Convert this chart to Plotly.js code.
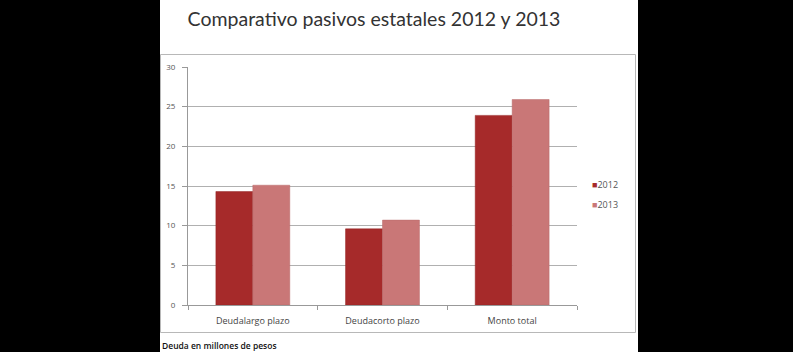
<!DOCTYPE html>
<html>
<head>
<meta charset="utf-8">
<script src="https://cdn.plot.ly/plotly-3.0.1.min.js"></script>
<style>
html,body{margin:0;padding:0;background:#000;}
#chart{width:793px;height:352px;}
</style>
</head>
<body>
<div id="chart"></div>
<script>
const categories = ["Deudalargo plazo", "Deudacorto plazo", "Monto total"];
const series2012 = [14.3, 9.6, 23.9];
const series2013 = [15.1, 10.7, 25.9];
const seriesNames = ["2012", "2013"];
const seriesColors = ["#a62a2a", "#c97777"];
const yTicks = [0, 5, 10, 15, 20, 25, 30];

const W = 793, H = 352;
const L = 188, R = 577, T = 67, B = 305;
const px = v => (v - L) / (R - L);
const py = v => (B - v) / (B - T);

const traces = [
  {type: "bar", name: seriesNames[0], x: categories, y: series2012,
   marker: {color: seriesColors[0], line: {color: "#952424", width: 0.5}}},
  {type: "bar", name: seriesNames[1], x: categories, y: series2013,
   marker: {color: seriesColors[1], line: {color: "#b86a6a", width: 0.5}}}
];

const legendAnn = seriesNames.map((n, i) => ({
  text: '<span style="color:' + seriesColors[i] + '">■</span>' + n,
  xref: "paper", yref: "paper", x: px(590), xanchor: "left",
  y: py(184 + 20 * i), yanchor: "middle", showarrow: false,
  font: {family: "Open Sans, sans-serif", size: 9, color: "#555"}
}));

const layout = {
  width: W, height: H,
  margin: {l: L, r: W - R, t: T, b: H - B, pad: 0},
  paper_bgcolor: "#000000",
  plot_bgcolor: "rgba(0,0,0,0)",
  font: {family: "Open Sans, sans-serif", color: "#555"},
  title: {text: "Comparativo pasivos estatales 2012 y 2013",
          font: {family: "Lato, sans-serif", size: 19.5, color: "#333"},
          xref: "container", x: 374 / W, xanchor: "center",
          yref: "container", y: 1 - 19 / H, yanchor: "middle"},
  barmode: "group", bargap: 0.43, bargroupgap: 0,
  showlegend: false,
  xaxis: {type: "category", showline: true, linecolor: "#999", linewidth: 1,
          ticks: "outside", tickson: "boundaries", ticklen: 4, tickcolor: "#999",
          ticklabelstandoff: 7,
          tickfont: {size: 9, color: "#444"}, showgrid: false, fixedrange: true},
  yaxis: {range: [0, 30], tickvals: yTicks, ticktext: yTicks.map(String),
          showline: true, linecolor: "#999", linewidth: 1,
          ticks: "outside", ticklen: 5, tickcolor: "#999",
          ticklabelstandoff: 5,
          tickfont: {size: 8, color: "#555"}, showgrid: true, gridcolor: "#b0b0b0",
          gridwidth: 1, zeroline: false, fixedrange: true},
  shapes: [
    {type: "rect", layer: "below", xref: "paper", yref: "paper",
     x0: px(160), x1: px(638), y0: py(H), y1: py(0),
     fillcolor: "#ffffff", line: {width: 0}},
    {type: "rect", layer: "below", xref: "paper", yref: "paper",
     x0: px(160.5), x1: px(635.5), y0: py(332.5), y1: py(54.5),
     fillcolor: "rgba(0,0,0,0)", line: {color: "#b8b8b8", width: 1}}
  ],
  annotations: legendAnn.concat([
    {text: "Deuda en millones de pesos", xref: "paper", yref: "paper",
     x: px(160), xanchor: "left", y: py(345), yanchor: "middle",
     showarrow: false, font: {family: "Open Sans, sans-serif", size: 8.5, color: "#111", weight: 600}}
  ])
};

Plotly.newPlot("chart", traces, layout, {displayModeBar: false, staticPlot: true});
</script>
</body>
</html>
